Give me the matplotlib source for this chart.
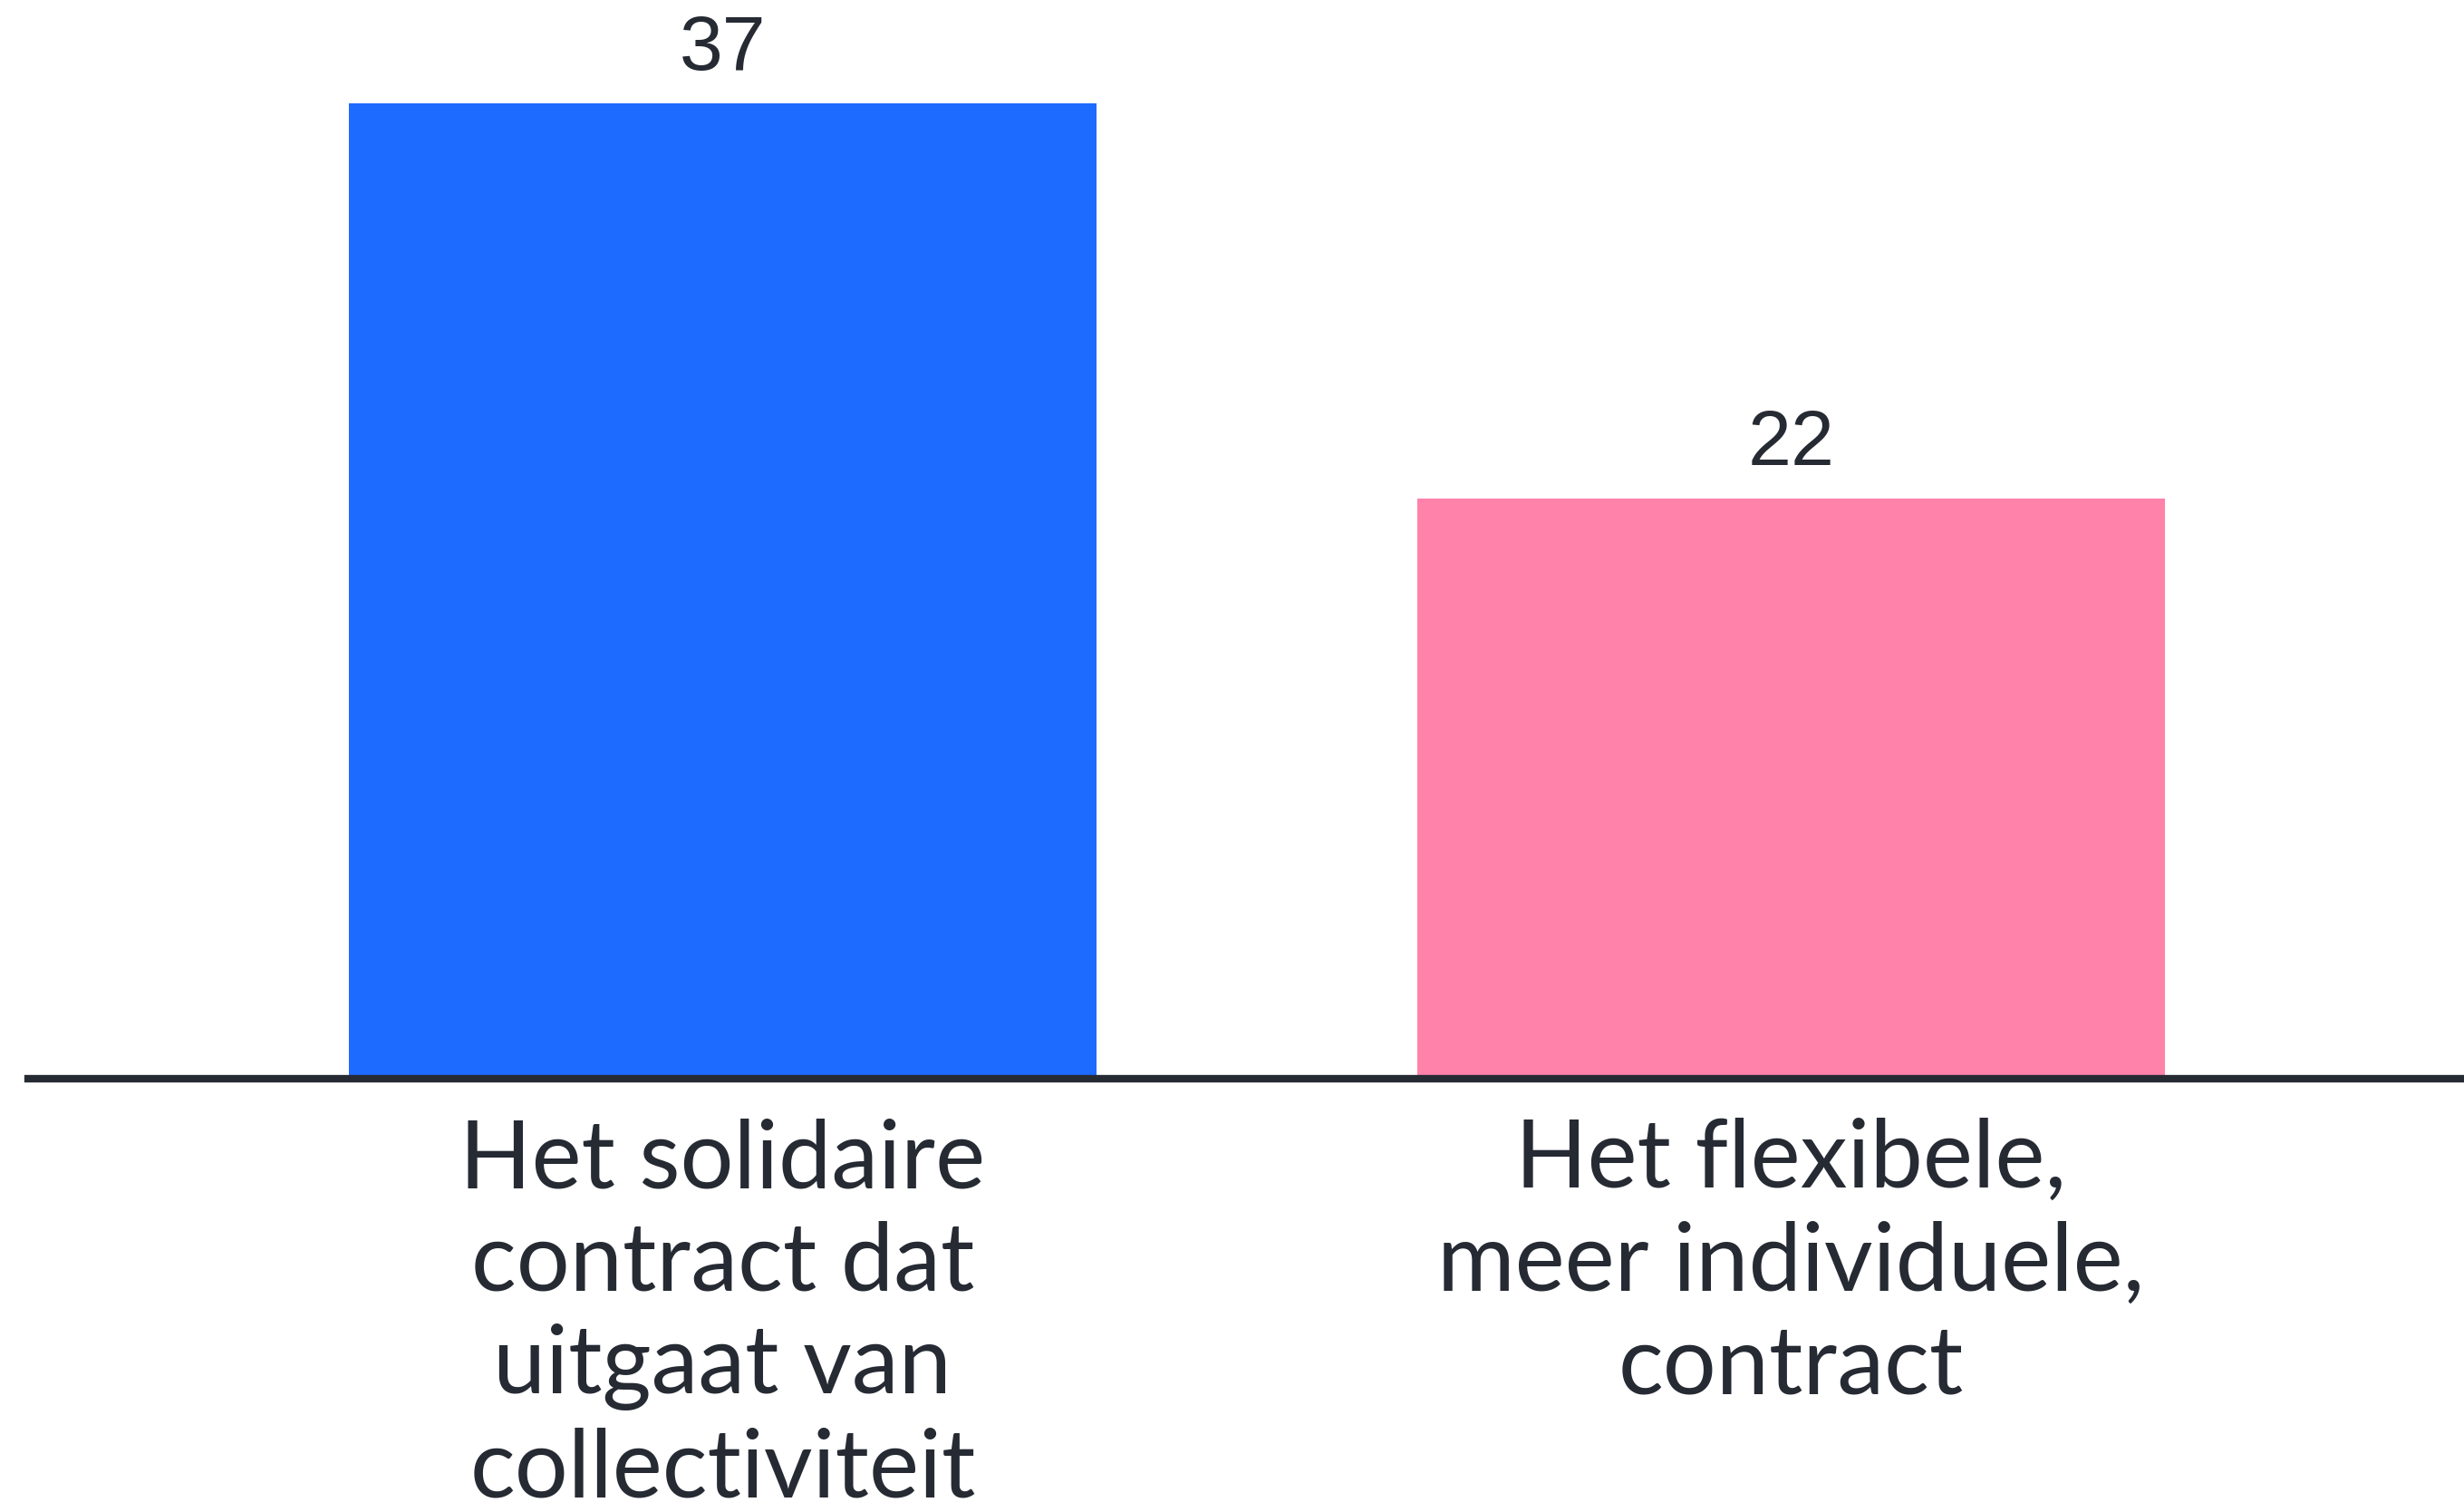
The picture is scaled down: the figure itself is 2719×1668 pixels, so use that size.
import matplotlib.pyplot as plt
import numpy as np

# data
categories = ["Het solidaire\ncontract dat\nuitgaat van\ncollectiviteit",
              "Het flexibele,\nmeer individuele,\ncontract"]
values = [37, 22]
bar_colors = ["#1d6bff", "#ff82aa"]

text_color = "#262a33"

fig = plt.figure(figsize=(27.19, 16.68), dpi=100)
ax = fig.add_axes([31 / 2719, (1668 - 1190) / 1668, 1 - 31 / 2719, 1190 / 1668])

x = np.arange(len(categories))
bars = ax.bar(x, values, width=0.7, color=bar_colors, zorder=1)

ax.set_xlim(-0.65, 1.63)
ax.set_ylim(0, 40.92)

# value labels above bars
for rect, v in zip(bars, values):
    ax.annotate(str(v), (rect.get_x() + rect.get_width() / 2, rect.get_height()),
                xytext=(0, 14), textcoords="offset points",
                ha="center", va="bottom", fontsize=62,
                family=["Liberation Sans", "DejaVu Sans"], color=text_color)

# axes styling: only a thick baseline
for side in ["top", "left", "right"]:
    ax.spines[side].set_visible(False)
ax.spines["bottom"].set_linewidth(6)
ax.spines["bottom"].set_color(text_color)
ax.set_yticks([])
ax.set_xticks(x)
ax.set_xticklabels(categories, fontsize=75, family=["Lato", "DejaVu Sans"],
                   color=text_color, linespacing=1.24)
ax.tick_params(axis="x", length=0, pad=31)

fig.savefig("out.png", dpi=100)
